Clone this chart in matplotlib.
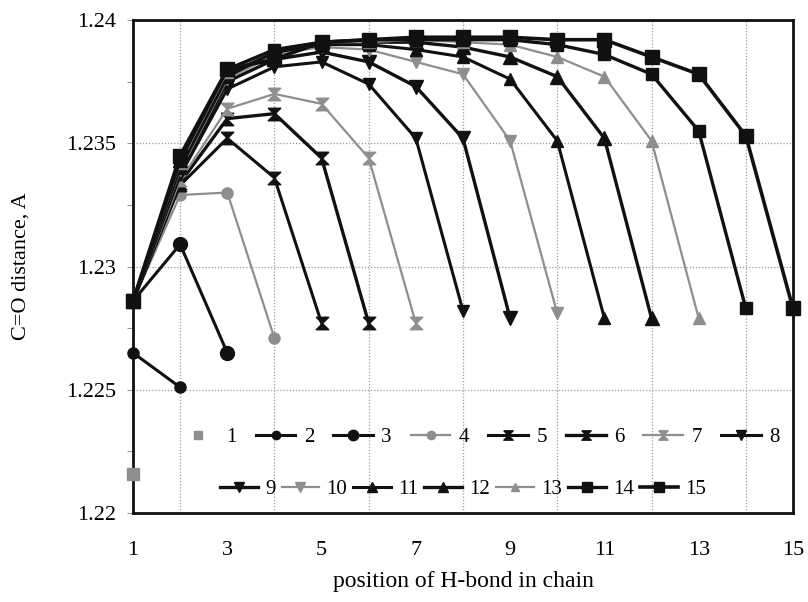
import matplotlib
matplotlib.use("Agg")
import matplotlib.pyplot as plt

# ---- data (C=O distance for chains of n molecules, position 1..n) ----
s1 = [1.2216]
s2 = [1.2265, 1.2251]
s3 = [1.2286, 1.2309, 1.2265]
s4 = [1.2286, 1.2329, 1.2330, 1.2271]
s5 = [1.2286, 1.2333, 1.2352, 1.2336, 1.2277]
s6 = [1.2286, 1.2334, 1.2360, 1.2362, 1.2344, 1.2277]
s7 = [1.2286, 1.2335, 1.2364, 1.2370, 1.2366, 1.2344, 1.2277]
s8 = [1.2286, 1.2337, 1.2372, 1.2381, 1.2383, 1.2374, 1.2352, 1.2282]
s9 = [1.2286, 1.2338, 1.2375, 1.2384, 1.2387, 1.2383, 1.2373, 1.2352, 1.2279]
s10 = [1.2286, 1.2339, 1.2376, 1.2386, 1.2389, 1.2388, 1.2383, 1.2378, 1.2351, 1.2281]
s11 = [1.2286, 1.2340, 1.2377, 1.2387, 1.2390, 1.2390, 1.2388, 1.2385, 1.2376, 1.2351, 1.2279]
s12 = [1.2286, 1.2341, 1.2378, 1.2387, 1.2390, 1.2391, 1.2391, 1.2389, 1.2385, 1.2377, 1.2352, 1.2279]
s13 = [1.2286, 1.2342, 1.2379, 1.2388, 1.2391, 1.2391, 1.2392, 1.2391, 1.2390, 1.2385, 1.2377, 1.2351, 1.2279]
s14 = [1.2286, 1.2343, 1.2380, 1.2388, 1.2391, 1.2392, 1.2392, 1.2392, 1.2392, 1.2390, 1.2386, 1.2378, 1.2355, 1.2283]
s15 = [1.2286, 1.2345, 1.2380, 1.2384, 1.2391, 1.2392, 1.2393, 1.2393, 1.2393, 1.2392, 1.2392, 1.2385, 1.2378, 1.2353, 1.2283]
series = [s1, s2, s3, s4, s5, s6, s7, s8, s9, s10, s11, s12, s13, s14, s15]
labels = [str(i) for i in range(1, 16)]
xticks = [1, 3, 5, 7, 9, 11, 13, 15]

plt.rcParams['font.family'] = ['Liberation Serif', 'DejaVu Serif']

BLACK = '#111111'
GRAY = '#8e8e8e'
hourglass = [(-1, 1), (1, 1), (0, 0), (1, -1), (-1, -1), (0, 0), (-1, 1)]
styles = [
    (GRAY, 's', 8, 0),
    (BLACK, 'o', 8, 2.2),
    (BLACK, 'o', 10, 2.2),
    (GRAY, 'o', 8, 1.6),
    (BLACK, hourglass, 9, 2.2),
    (BLACK, hourglass, 9, 2.4),
    (GRAY, hourglass, 9, 1.6),
    (BLACK, 'v', 9, 2.2),
    (BLACK, 'v', 10, 2.4),
    (GRAY, 'v', 9, 1.6),
    (BLACK, '^', 9, 2.2),
    (BLACK, '^', 10, 2.4),
    (GRAY, '^', 8, 1.6),
    (BLACK, 's', 9, 2.4),
    (BLACK, 's', 10, 2.6),
]

fig = plt.figure(figsize=(8.08, 6.02), dpi=100)
ax = fig.add_axes([0.1646, 0.1478, 0.9814 - 0.1646, 0.9668 - 0.1478])

handles = []
for i, (vals, (c, m, ms, lw)) in enumerate(zip(series, styles)):
    xs = list(range(1, len(vals) + 1))
    h, = ax.plot(xs, vals, color=c, marker=m, markersize=ms, linewidth=lw,
                 markeredgecolor=c, markerfacecolor=c, zorder=3 + i * 0.01,
                 clip_on=False, label=labels[i])
    handles.append(h)

ax.set_xlim(1, 15)
ax.set_ylim(1.22, 1.24)
ax.set_xticks(xticks)
ax.set_xticklabels([str(t) for t in xticks])
ax.set_yticks([1.22, 1.225, 1.23, 1.235, 1.24])
ax.set_yticklabels(['1.22', '1.225', '1.23', '1.235', '1.24'])
ax.set_yticks([1.2225, 1.2275, 1.2325, 1.2375], minor=True)

# grid: horizontal at majors, vertical at even positions
for yv in [1.225, 1.23, 1.235]:
    ax.axhline(yv, color='#9a9a9a', linestyle=(0, (1, 1.5)), linewidth=0.9, zorder=1)
for xv in range(2, 15, 2):
    ax.axvline(xv, color='#9a9a9a', linestyle=(0, (1, 1.5)), linewidth=0.9, zorder=1)

ax.tick_params(axis='both', which='both', direction='out', length=4, width=0.8,
               color='#999999', labelsize=16, pad=8)
ax.tick_params(axis='x', length=0, pad=20)
for sp in ax.spines.values():
    sp.set_linewidth(2.0)
    sp.set_color(BLACK)

ax.set_xlabel('position of H-bond in chain', fontsize=17, labelpad=8)
ax.set_ylabel('C=O distance, A', fontsize=16, labelpad=26)

leg1 = ax.legend(handles[:8], labels[:8], ncol=8, loc='center',
                 bbox_to_anchor=(0.524, 0.153), frameon=False, fontsize=15,
                 handlelength=1.9, columnspacing=0.92, handletextpad=0.4,
                 markerscale=0.75)
ax.add_artist(leg1)
leg2 = ax.legend(handles[8:], labels[8:], ncol=7, loc='center',
                 bbox_to_anchor=(0.5, 0.048), frameon=False, fontsize=15,
                 handlelength=1.8, columnspacing=0.3, handletextpad=0.35,
                 markerscale=0.75)

fig.savefig('out.png', dpi=100, facecolor='white')
